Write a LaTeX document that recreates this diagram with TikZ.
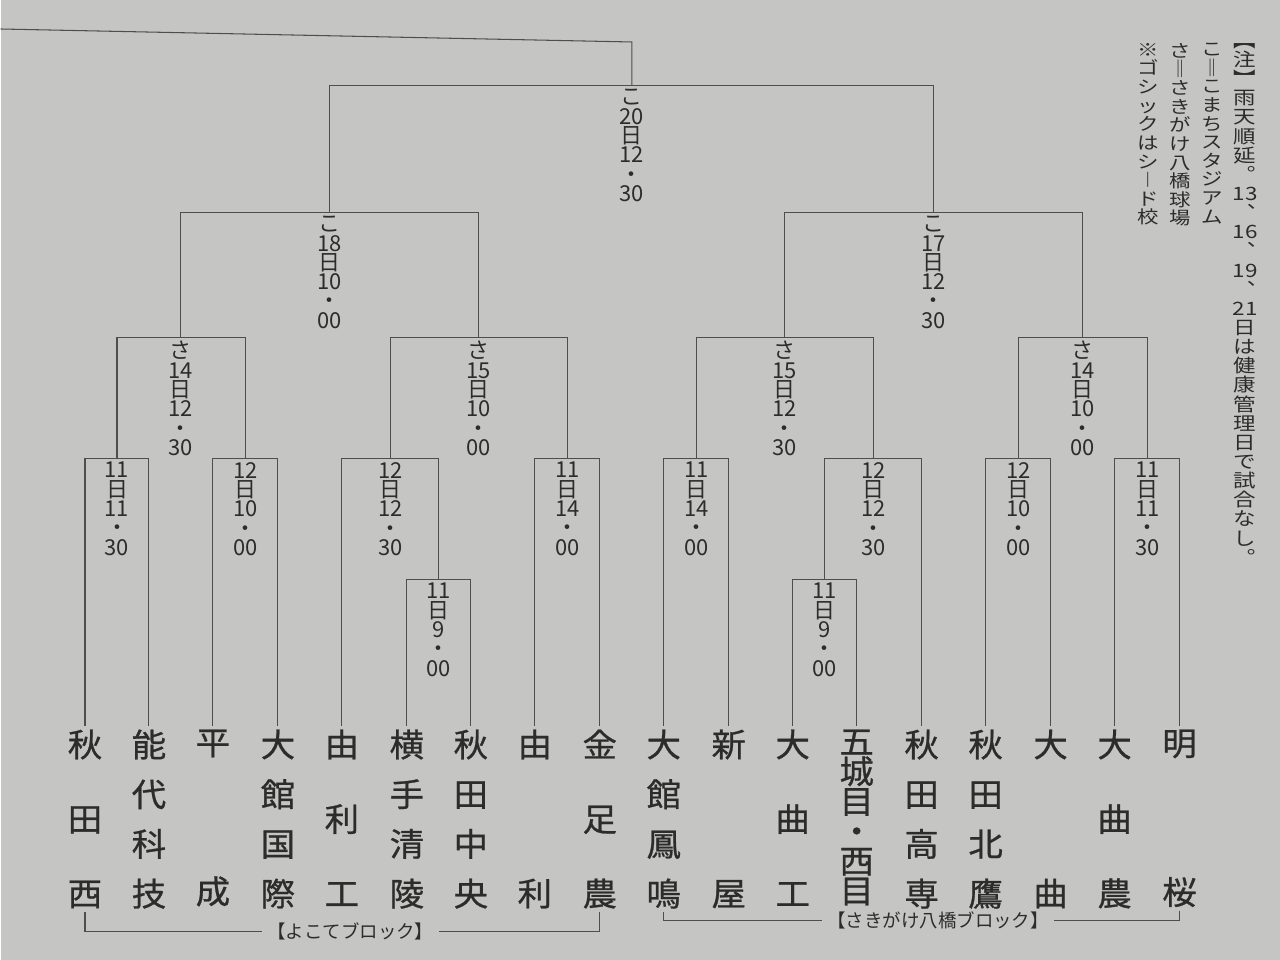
\documentclass[tikz,border=0pt]{standalone}
\usepackage{fontspec}
\setmainfont{Noto Sans CJK JP}
\newfontfamily\teamfont{Noto Sans CJK JP}[FakeBold=0.8, FakeStretch=1.06]
\newfontfamily\flatfont{Noto Sans CJK JP}[FakeStretch=1.22]
\usetikzlibrary{positioning}
\definecolor{paper}{RGB}{197,197,195}
\definecolor{ink}{RGB}{44,44,44}
\definecolor{rule}{RGB}{78,78,78}

\begin{document}
\begin{tikzpicture}[
  x=0.02cm, y=-0.02cm,
  team/.style = {
    anchor=north, inner sep=2pt, align=center, text=ink,
    font={\teamfont\fontsize{18.5pt}{#1}\selectfont\lineskiplimit=-\maxdimen\relax}
  },
  slot/.style = {
    inner sep=2pt, align=center, text=ink,
    font={\fontsize{12.5pt}{11pt}\selectfont\lineskiplimit=-\maxdimen\relax}
  },
  note/.style = {
    anchor=north, inner sep=0pt, align=center, text=ink,
    font={\flatfont\fontsize{10pt}{#1}\selectfont\lineskiplimit=-\maxdimen\relax}
  },
  block/.style = {inner sep=3pt, text=ink, font=\fontsize{10.5pt}{12pt}\selectfont},
  bracket/.style = {draw=rule, line width=0.6pt}
]
\fill[paper] (0,0) rectangle (1280,960);
%--- 出場校: よこてブロック ---
\node[team=42.4pt] (t1) at (84.5,726)  {秋\\田\\西};
\node[team=28.3pt] (t2) at (148.5,726) {能\\代\\科\\技};
\node[team=84.8pt] (t3) at (212.5,726) {平\\成};
\node[team=28.3pt] (t4) at (277.5,726) {大\\館\\国\\際};
\node[team=42.4pt] (t5) at (341.5,726) {由\\利\\工};
\node[team=28.3pt] (t6) at (406.5,726) {横\\手\\清\\陵};
\node[team=28.3pt] (t7) at (470.5,726) {秋\\田\\中\\央};
\node[team=84.8pt] (t8) at (534.5,726) {由\\利};
\node[team=42.4pt] (t9) at (599.5,726) {金\\足\\農};
%--- 出場校: さきがけ八橋ブロック ---
\node[team=28.3pt] (t10) at (663.5,726)  {大\\館\\鳳\\鳴};
\node[team=84.8pt] (t11) at (728.5,726)  {新\\屋};
\node[team=42.4pt] (t12) at (792.5,726)  {大\\曲\\工};
\node[team=17pt]   (t13) at (856.5,726)  {五\\城\\目\\・\\西\\目};
\node[team=28.3pt] (t14) at (921.5,726)  {秋\\田\\高\\専};
\node[team=28.3pt] (t15) at (985.5,726)  {秋\\田\\北\\鷹};
\node[team=84.8pt] (t16) at (1050.5,726) {大\\曲};
\node[team=42.4pt] (t17) at (1114.5,726) {大\\曲\\農};
\node[team=84.8pt] (t18) at (1179.5,726) {明\\桜};
%--- 1回戦・2回戦 ---
\coordinate (m1)  at (116.5,458.5);
\coordinate (m2)  at (245.5,458.5);
\coordinate (m3)  at (438.5,579.5);
\coordinate (m4)  at (390.5,458.5);
\coordinate (m5)  at (567.5,458.5);
\coordinate (m6)  at (696.5,458.5);
\coordinate (m7)  at (824.5,579.5);
\coordinate (m8)  at (873.5,458.5);
\coordinate (m9)  at (1018.5,458.5);
\coordinate (m10) at (1147.5,458.5);
\draw[bracket] (t1.north) |- (m1) -| (t2.north);
\draw[bracket] (t3.north) |- (m2) -| (t4.north);
\draw[bracket] (t6.north) |- (m3) -| (t7.north);
\draw[bracket] (t5.north) |- (m4) -| (m3);
\draw[bracket] (t8.north) |- (m5) -| (t9.north);
\draw[bracket] (t10.north) |- (m6) -| (t11.north);
\draw[bracket] (t12.north) |- (m7) -| (t13.north);
\draw[bracket] (m7) |- (m8) -| (t14.north);
\draw[bracket] (t15.north) |- (m9) -| (t16.north);
\draw[bracket] (t17.north) |- (m10) -| (t18.north);
\node[slot, below=0pt of m1]  (s1)  {11\\日\\11\\・\\30};
\node[slot, below=0pt of m2]  (s2)  {12\\日\\10\\・\\00};
\node[slot, below=0pt of m3]  (s3)  {11\\日\\9\\・\\00};
\node[slot, below=0pt of m4]  (s4)  {12\\日\\12\\・\\30};
\node[slot, below=0pt of m5]  (s5)  {11\\日\\14\\・\\00};
\node[slot, below=0pt of m6]  (s6)  {11\\日\\14\\・\\00};
\node[slot, below=0pt of m7]  (s7)  {11\\日\\9\\・\\00};
\node[slot, below=0pt of m8]  (s8)  {12\\日\\12\\・\\30};
\node[slot, below=0pt of m9]  (s9)  {12\\日\\10\\・\\00};
\node[slot, below=0pt of m10] (s10) {11\\日\\11\\・\\30};
%--- 3回戦 ---
\coordinate (r2a) at (180.5,337.5);
\coordinate (r2b) at (478.5,337.5);
\coordinate (r2c) at (784.5,337.5);
\coordinate (r2d) at (1082.5,337.5);
\draw[bracket] (m1) |- (r2a) -| (m2);
\draw[bracket] (m4) |- (r2b) -| (m5);
\draw[bracket] (m6) |- (r2c) -| (m8);
\draw[bracket] (m9) |- (r2d) -| (m10);
\node[slot, below=0pt of r2a] (s2a) {さ\\14\\日\\12\\・\\30};
\node[slot, below=0pt of r2b] (s2b) {さ\\15\\日\\10\\・\\00};
\node[slot, below=0pt of r2c] (s2c) {さ\\15\\日\\12\\・\\30};
\node[slot, below=0pt of r2d] (s2d) {さ\\14\\日\\10\\・\\00};
%--- 準決勝・決勝 ---
\coordinate (r3a) at (329.5,212.5);
\coordinate (r3b) at (933.5,212.5);
\coordinate (fin) at (631.5,85.5);
\coordinate (finturn) at (631.5,42);
\coordinate (finend)  at (0,29);
\draw[bracket] (r2a) |- (r3a) -| (r2b);
\draw[bracket] (r2c) |- (r3b) -| (r2d);
\draw[bracket] (r3a) |- (fin) -| (r3b);
\draw[bracket] (fin) -- (finturn) -- (finend);
\node[slot, below=0pt of r3a] (s3a) {こ\\18\\日\\10\\・\\00};
\node[slot, below=0pt of r3b] (s3b) {こ\\17\\日\\12\\・\\30};
\node[slot, below=0pt of fin] (sf)  {こ\\20\\日\\12\\・\\30};
%--- ブロック名 ---
\node[block] (yokote)   at (350,931.5) {【よこてブロック】};
\node[block] (sakigake) at (938,920.5) {【さきがけ八橋ブロック】};
\draw[bracket] (t1.south) |- (yokote.west);
\draw[bracket] (yokote.east) -| (t9.south);
\draw[bracket] (t10.south) |- (sakigake.west);
\draw[bracket] (sakigake.east) -| (t18.south);
%--- 注 ---
\node[note=10.9pt, font={\flatfont\fontsize{10.5pt}{10.9pt}\selectfont\lineskiplimit=-\maxdimen\relax}]
  (n1) at (1245,43) {︻\\注\\︼\\雨\\天\\順\\延\\︒\\13\\︑\\16\\︑\\19\\︑\\21\\日\\は\\健\\康\\管\\理\\日\\で\\試\\合\\な\\し\\︒};
\node[note=10.6pt] (n2) at (1212,43) {こ\\‖\\こ\\ま\\ち\\ス\\タ\\ジ\\ア\\ム};
\node[note=10.6pt] (n3) at (1180,43) {さ\\‖\\さ\\き\\が\\け\\八\\橋\\球\\場};
\node[note=10.6pt] (n4) at (1148,43) {※\\ゴ\\シ\\ッ\\ク\\は\\シ\\︱\\ド\\校};
\end{tikzpicture}
\end{document}
